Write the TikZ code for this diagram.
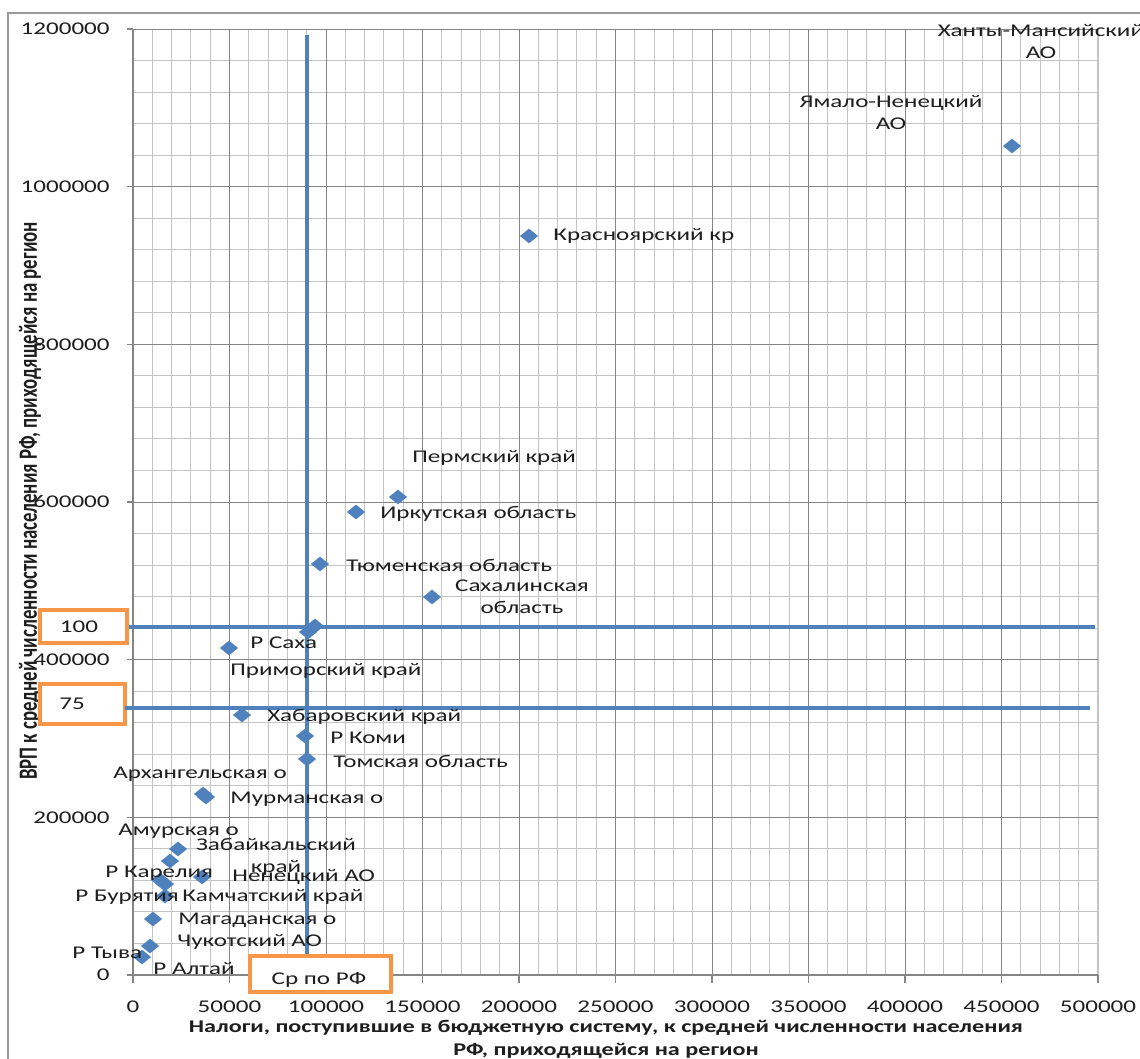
\documentclass[tikz,border=0pt]{standalone}
\usepackage{fontspec}
\setmainfont{Carlito}[FakeStretch=1.4]
\newfontfamily\uprightfont{Carlito}
\newfontfamily\titlefont{Carlito}[FakeStretch=1.35]
\usetikzlibrary{shapes.geometric}
\definecolor{ptblue}{HTML}{4F81BD}
\definecolor{boxorange}{HTML}{F79646}
\definecolor{gridminor}{HTML}{C4C4C4}
\definecolor{gridmajor}{HTML}{858585}
\definecolor{framegray}{HTML}{9A9A9A}
\definecolor{labeltext}{HTML}{1E1E1E}

\begin{document}
\begin{tikzpicture}[x=0.5pt,y=-0.5pt,
  font=\fontsize{8.95pt}{11pt}\selectfont,
  minorgrid/.style={draw=gridminor,line width=0.5pt},
  majorgrid/.style={draw=gridmajor,line width=0.5pt},
  axisline/.style={draw=gridmajor,line width=0.6pt},
  datapt/.style={diamond,fill=ptblue,inner sep=0pt,minimum width=9.25pt,minimum height=7.5pt},
  ptlabel/.style={anchor=west,inner sep=0pt,text=labeltext},
  ticklabel/.style={inner sep=0pt,text=labeltext},
  refline/.style={draw=ptblue,line width=2pt},
  valbox/.style={draw=boxorange,line width=1.6pt,fill=white,inner sep=0pt}]

\useasboundingbox (0,0) rectangle (1140,1059);
\fill[white] (0,0) rectangle (1140,1059);

% chart frame
\begin{scope}
  \clip (0,0) rectangle (1140,1059);
  \draw[framegray,line width=1pt] (8,1100) -- (8,13) -- (1200,13);
\end{scope}

% gridlines: x every 10000, y every 40000
\foreach \i in {1,...,49}
  \draw[minorgrid] ({133+19.3*\i},29) -- ({133+19.3*\i},975);
\draw[minorgrid,line width=0.9pt] (1098,29) -- (1098,975);
\foreach \j in {1,...,30}
  \draw[minorgrid] (133,{975-31.533*\j}) -- (1098,{975-31.533*\j});
\foreach \i in {5,10,...,45}
  \draw[majorgrid] ({133+19.3*\i},29) -- ({133+19.3*\i},975);
\foreach \j in {5,10,...,30}
  \draw[majorgrid] (133,{975-31.533*\j}) -- (1098,{975-31.533*\j});

% axes and ticks
\draw[axisline] (133,29) -- (133,975) -- (1098,975);
\foreach \j in {0,5,...,30}
  \draw[axisline] (127,{975-31.533*\j}) -- (133,{975-31.533*\j});
\foreach \i in {0,5,...,50}
  \draw[axisline] ({133+19.3*\i},975) -- ({133+19.3*\i},983);

% tick labels
\foreach \j/\t in {0/0,5/200000,10/400000,15/600000,20/800000,25/1000000,30/1200000}
  \node[ticklabel,anchor=east] (ylab\j) at (110,{975-31.533*\j}) {\t};
\foreach \i/\t in {0/0,5/50000,10/100000,15/150000,20/200000,25/250000,30/300000,35/350000,40/400000,45/450000,50/500000}
  \node[ticklabel] (xlab\i) at ({133+19.3*\i},1007) {\t};

% axis titles
\node[ticklabel,font=\titlefont\fontsize{8.95pt}{11.5pt}\selectfont\bfseries,align=center] (xtitle) at (606,1039)
  {Налоги, поступившие в бюджетную систему, к средней численности населения\\РФ, приходящейся на регион};
\node[ticklabel] (ytitle) at (30,501)
  {\rotatebox{90}{\scalebox{1}[1.4]{\uprightfont\bfseries\fontsize{9.4pt}{11pt}\selectfont ВРП к средней численности населения РФ, приходящейся на регион}}};

% orange value boxes
\node[valbox,minimum width=43.5pt,minimum height=16.5pt] (box100) at (83.5,626.5) {};
\node[valbox,minimum width=42.5pt,minimum height=20pt] (box75) at (82.5,704) {};
\node[valbox,minimum width=70.5pt,minimum height=18pt] (boxavg) at (320.5,974) {};
\node[ticklabel] (t100) at (79,627) {100};
\node[ticklabel] (t75) at (72,704) {75};
\node[ticklabel] (tavg) at (319,980) {Ср по РФ};

% reference lines
\coordinate (vtop) at (307,35);
\coordinate (h100end) at (1095,626.5);
\coordinate (h75start) at (125,708);
\coordinate (h75end) at (1090,708);
\draw[refline] (vtop) -- (vtop |- boxavg.north);
\draw[refline] (box100.east) -- (h100end);
\draw[refline] (h75start) -- (h75end);

% data points
\foreach \px/\py [count=\k] in {1012/146,529/236,398/497,356/512,320/564,432/597,
    315/626,308/632,229/648,242/715,305/736,307/759,203/794,206/797,178/849,
    170/861,202/877,160/880,165/884,165/896,153/919,150/946,142/957}
  \node[datapt] (m\k) at (\px,\py) {};

% data labels
\node[ticklabel,align=center] (lkhm) at (1041,42) {Ханты-Мансийский\\АО};
\node[ticklabel,align=center] (lyam) at (891,113) {Ямало-Ненецкий\\АО};
\node[ptlabel] (lkrs) at (553,236) {Красноярский кр};
\node[ptlabel] (lprm) at (412,458) {Пермский край};
\node[ptlabel] (lirk) at (380,514) {Иркутская область};
\node[ptlabel] (ltyu) at (346,565) {Тюменская область};
\node[ticklabel,align=center] (lskh) at (522,597) {Сахалинская\\область};
\node[ptlabel] (lsak) at (250,643) {Р Саха};
\node[ptlabel] (lpri) at (230,671) {Приморский край};
\node[ptlabel] (lkhb) at (267,717) {Хабаровский край};
\node[ptlabel] (lkom) at (330,738) {Р Коми};
\node[ptlabel] (ltom) at (333,761) {Томская область};
\node[ptlabel] (lark) at (113,774) {Архангельская о};
\node[ptlabel] (lmur) at (230,799) {Мурманская о};
\node[ptlabel] (lamu) at (118,831) {Амурская о};
\node[ticklabel,align=center] (lzab) at (276,857) {Забайкальский\\край};
\node[ptlabel] (lkar) at (105,873) {Р Карелия};
\node[ptlabel] (lnen) at (232,877) {Ненецкий АО};
\node[ptlabel] (lbur) at (75,897) {Р Бурятия};
\node[ptlabel] (lkam) at (182,897) {Камчатский край};
\node[ptlabel] (lmag) at (178,920) {Магаданская о};
\node[ptlabel] (lchu) at (177,942) {Чукотский АО};
\node[ptlabel] (ltyv) at (72,953) {Р Тыва};
\node[ptlabel] (lalt) at (153,969) {Р Алтай};

\end{tikzpicture}
\end{document}
